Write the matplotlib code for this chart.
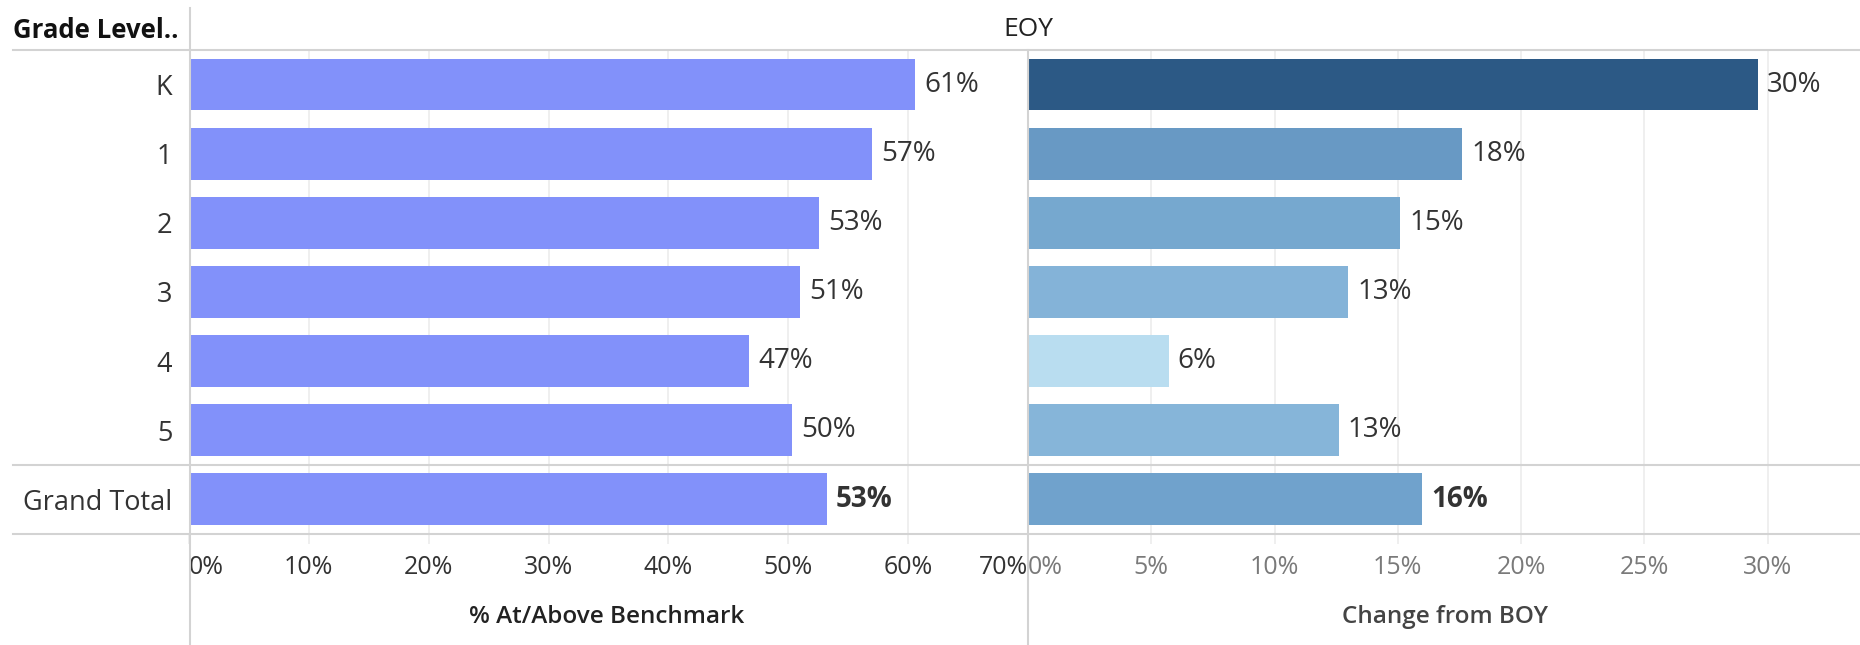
import matplotlib
matplotlib.use("Agg")
import matplotlib.pyplot as plt
from matplotlib.lines import Line2D
from matplotlib.ticker import FixedLocator

plt.rcParams['font.family'] = ['Open Sans', 'DejaVu Sans']

grades = ['K', '1', '2', '3', '4', '5', 'Grand Total']
pct_benchmark = [60.6, 57.0, 52.6, 51.0, 46.7, 50.3, 53.2]
change_boy = [29.6, 17.6, 15.1, 13.0, 5.7, 12.6, 16.0]

left_ticks = [0, 10, 20, 30, 40, 50, 60, 70]
right_ticks = [0, 5, 10, 15, 20, 25, 30]

bench_color = '#8291fa'
change_colors = ['#2c5985', '#6899c4', '#76a8cf', '#84b3d8', '#b9ddf0', '#86b5d9', '#70a2cc']

W, H = 1860, 645
fig = plt.figure(figsize=(W / 100, H / 100), dpi=100)

def fx(px):
    return px / W

def fy(py):
    return 1 - py / H

top_px, bot_px = 50, 534
x0, xdiv = 189, 1028
ax1 = fig.add_axes([fx(x0), fy(bot_px), fx(xdiv - x0), fy(top_px) - fy(bot_px)])
ax2 = fig.add_axes([fx(xdiv), fy(bot_px), fx(W - xdiv), fy(top_px) - fy(bot_px)])

rows = list(range(len(grades)))
grid_col = '#ececec'
line_col = '#d3d3d3'
dark = '#333333'

ax1.barh(rows, pct_benchmark, height=0.75, color=bench_color)
ax2.barh(rows, change_boy, height=0.75, color=change_colors)

for ax, vals, xmax, ticks in [(ax1, pct_benchmark, 70, left_ticks),
                               (ax2, change_boy, (W - xdiv) / 24.65, right_ticks)]:
    ax.set_xlim(0, xmax)
    ax.set_ylim(len(grades) - 0.5, -0.5)
    for s in ax.spines.values():
        s.set_visible(False)
    ax.xaxis.set_major_locator(FixedLocator(ticks))
    ax.grid(axis='x', color=grid_col, linewidth=1.2, zorder=0)
    ax.set_axisbelow(True)
    ax.tick_params(axis='x', length=7, color=grid_col, width=1.2, pad=8, labelsize=18)
    ax.set_xticklabels([f'{t}%' for t in ticks])
    for i, v in enumerate(vals):
        ax.text(v + xmax * 0.011, i, f'{v:.0f}%', va='center', ha='left',
                fontsize=20, color=dark,
                fontweight='bold' if grades[i] == 'Grand Total' else 'normal')

ax1.set_yticks(rows)
ax1.set_yticklabels(grades)
ax1.tick_params(axis='y', length=0, pad=12, labelsize=19.5, labelcolor=dark)
ax2.set_yticks([])

for lab in ax1.get_xticklabels():
    lab.set_color(dark)
ax1.get_xticklabels()[0].set_ha('left')
ax1.get_xticklabels()[-1].set_ha('right')
for lab in ax2.get_xticklabels():
    lab.set_color('#7a7a7a')
ax2.get_xticklabels()[0].set_ha('left')

# table frame lines
for py in [top_px, 465, bot_px]:
    fig.add_artist(Line2D([fx(13), 1], [fy(py), fy(py)], color=line_col, linewidth=1.5))
fig.add_artist(Line2D([fx(190), fx(190)], [fy(8), 0], color=line_col, linewidth=1.5))
fig.add_artist(Line2D([fx(xdiv), fx(xdiv)], [fy(top_px), 0], color=line_col, linewidth=1.5))

fig.text(fx(13), fy(30), 'Grade Level..', fontsize=18.5, fontweight='bold', color='#111111',
         ha='left', va='center')
fig.text(fx(xdiv), fy(30), 'EOY', fontsize=19, color='#222222', ha='center', va='center')
fig.text(fx(607), fy(617), '% At/Above Benchmark', fontsize=17.5, fontweight='semibold',
         color='#222222', ha='center', va='center')
fig.text(fx(1445), fy(617), 'Change from BOY', fontsize=17.5, fontweight='semibold',
         color='#444444', ha='center', va='center')

fig.savefig('out.png', dpi=100)
